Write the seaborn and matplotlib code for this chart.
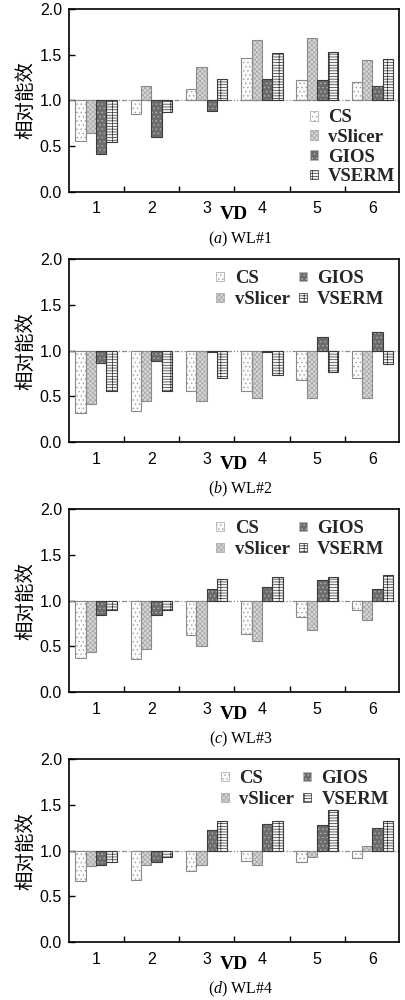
import numpy as np
import pandas as pd
import matplotlib
matplotlib.use("Agg")
import matplotlib.pyplot as plt
import seaborn as sns
from matplotlib.patches import Patch
from matplotlib.ticker import FixedLocator, FormatStrFormatter

# ---------------- data ----------------
vds = [1, 2, 3, 4, 5, 6]
methods = ["CS", "vSlicer", "GIOS", "VSERM"]

wl1_cs      = [0.555, 0.847, 1.128, 1.464, 1.220, 1.200]
wl1_vslicer = [0.640, 1.153, 1.361, 1.665, 1.683, 1.440]
wl1_gios    = [0.410, 0.600, 0.883, 1.234, 1.220, 1.157]
wl1_vserm   = [0.545, 0.876, 1.234, 1.520, 1.530, 1.457]

wl2_cs      = [0.320, 0.335, 0.560, 0.560, 0.680, 0.700]
wl2_vslicer = [0.410, 0.450, 0.450, 0.480, 0.478, 0.478]
wl2_gios    = [0.865, 0.890, 0.985, 0.985, 1.150, 1.205]
wl2_vserm   = [0.555, 0.560, 0.700, 0.730, 0.770, 0.850]

wl3_cs      = [0.365, 0.360, 0.620, 0.630, 0.825, 0.895]
wl3_vslicer = [0.432, 0.465, 0.500, 0.555, 0.680, 0.785]
wl3_gios    = [0.845, 0.845, 1.125, 1.145, 1.225, 1.125]
wl3_vserm   = [0.895, 0.900, 1.240, 1.255, 1.255, 1.285]

wl4_cs      = [0.670, 0.680, 0.780, 0.890, 0.875, 0.915]
wl4_vslicer = [0.836, 0.846, 0.846, 0.846, 0.927, 1.050]
wl4_gios    = [0.846, 0.875, 1.222, 1.296, 1.285, 1.252]
wl4_vserm   = [0.875, 0.930, 1.325, 1.325, 1.440, 1.320]

panels = [
    ("a", "WL#1", [wl1_cs, wl1_vslicer, wl1_gios, wl1_vserm]),
    ("b", "WL#2", [wl2_cs, wl2_vslicer, wl2_gios, wl2_vserm]),
    ("c", "WL#3", [wl3_cs, wl3_vslicer, wl3_gios, wl3_vserm]),
    ("d", "WL#4", [wl4_cs, wl4_vslicer, wl4_gios, wl4_vserm]),
]
y_ticks = [0.0, 0.5, 1.0, 1.5, 2.0]
baseline = 1.0

# ---------------- styles ----------------
face_pal = {"CS": "#fcfcfc", "vSlicer": "#d6d6d6", "GIOS": "#6c6c6c", "VSERM": "#f6f6f6"}
hatch_col = {"CS": "#a0a0a0", "vSlicer": "#a4a4a4", "GIOS": "#b4b4b4", "VSERM": "#303030"}
hatches = {"CS": "....", "vSlicer": "xxxxxxx", "GIOS": "....", "VSERM": "----++"}
edge_pal = {"CS": "#8a8a8a", "vSlicer": "#8a8a8a", "GIOS": "#3a3a3a", "VSERM": "#3a3a3a"}

sns.set_theme(style="ticks")
plt.rcParams["font.family"] = ["Liberation Sans", "DejaVu Sans"]
plt.rcParams["hatch.linewidth"] = 0.5
plt.rcParams["mathtext.fontset"] = "custom"
plt.rcParams["mathtext.it"] = "Liberation Serif:italic"
plt.rcParams["mathtext.rm"] = "Liberation Serif"

fig = plt.figure(figsize=(4.05, 10.0), dpi=100)

ax_left = 69 / 405
ax_w = 330 / 405
tops = [9, 259.3, 509.3, 759.3]
ax_h_px = 182.5

legend_cfg = [
    dict(ncol=1, anchor=(0.995, 0.46), labelspacing=0.14),
    dict(ncol=2, anchor=(0.962, 0.95), labelspacing=0.2),
    dict(ncol=2, anchor=(0.962, 0.95), labelspacing=0.2),
    dict(ncol=2, anchor=(0.975, 0.95), labelspacing=0.2),
]

for i, (letter, wl, series) in enumerate(panels):
    bottom_px = tops[i] + ax_h_px
    ax = fig.add_axes([ax_left, 1 - bottom_px / 1000, ax_w, ax_h_px / 1000])

    rows = []
    for m, vals in zip(methods, series):
        for vd, v in zip(vds, vals):
            rows.append({"VD": vd, "method": m, "value": v, "delta": v - baseline})
    df = pd.DataFrame(rows)

    ax.axhline(baseline, color="#8c8c8c", lw=0.9,
               ls=(0, (4, 1.5, 1, 1.5, 1, 1.5)), zorder=1)

    # filled + hatched layer
    sns.barplot(data=df, x="VD", y="delta", hue="method", order=vds,
                hue_order=methods, palette=face_pal, saturation=1,
                width=0.75, bottom=baseline, errorbar=None, legend=False,
                ax=ax, zorder=2)
    for cont, m in zip(ax.containers, methods):
        for p in cont:
            p.set_hatch(hatches[m])
            p.set_edgecolor(hatch_col[m])
            p.set_linewidth(0)
    # outline layer
    sns.barplot(data=df, x="VD", y="delta", hue="method", order=vds,
                hue_order=methods, palette=edge_pal, saturation=1,
                fill=False, width=0.75, bottom=baseline, errorbar=None,
                legend=False, ax=ax, linewidth=0.8, zorder=3)

    ax.set_xlim(-0.49, 5.48)
    ax.set_ylim(0, 2.0)
    ax.yaxis.set_major_locator(FixedLocator(y_ticks))
    ax.yaxis.set_major_formatter(FormatStrFormatter("%.1f"))
    ax.xaxis.set_minor_locator(FixedLocator([k + 0.5 for k in range(len(vds) - 1)]))
    ax.tick_params(axis="x", which="major", length=0, pad=7,
                   labelsize=11.5, colors="black")
    ax.tick_params(axis="x", which="minor", length=4, width=1.0,
                   direction="in", color="black")
    ax.tick_params(axis="y", which="major", length=4, width=1.0,
                   direction="in", pad=5, labelsize=11.5, colors="black")
    for s in ax.spines.values():
        s.set_visible(True)
        s.set_linewidth(1.2)
        s.set_color("black")

    ax.set_ylabel("相对能效", family=["Noto Sans CJK SC", "DejaVu Sans"],
                  fontsize=14, color="black")
    ax.yaxis.set_label_coords(-0.10, 0.5)
    ax.set_xlabel("VD", family="Liberation Serif", fontweight="bold",
                  fontsize=14, color="black")
    ax.xaxis.set_label_coords(0.5, -0.08)

    ax.text(0.52, -0.283, r"($\mathit{" + letter + r"}$) " + wl,
            transform=ax.transAxes, ha="center", va="baseline",
            family="Liberation Serif", fontsize=11.5, color="black")

    handles = [Patch(facecolor=face_pal[m], hatch=hatches[m],
                     edgecolor=hatch_col[m], linewidth=0.5) for m in methods]
    cfg = legend_cfg[i]
    ax.legend(handles, methods, ncol=cfg["ncol"], loc="upper right",
              bbox_to_anchor=cfg["anchor"], frameon=False,
              prop={"family": "Liberation Serif", "weight": "bold", "size": 13.5},
              handlelength=0.42, handleheight=0.42, handletextpad=0.55,
              columnspacing=0.5, labelspacing=cfg["labelspacing"],
              borderpad=0.1, borderaxespad=0.0)

fig.savefig("out.png", dpi=100)
